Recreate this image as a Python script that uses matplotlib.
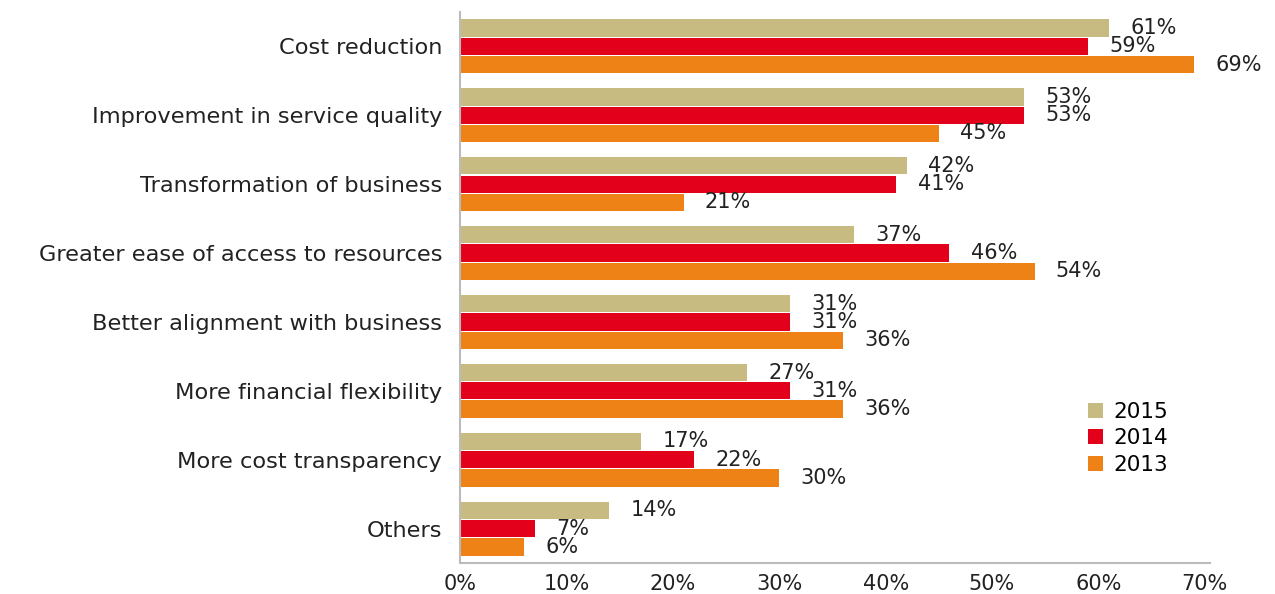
import numpy as np
import matplotlib
matplotlib.use('Agg')
import matplotlib.pyplot as plt

categories = ['Cost reduction', 'Improvement in service quality', 'Transformation of business',
              'Greater ease of access to resources', 'Better alignment with business',
              'More financial flexibility', 'More cost transparency', 'Others']
y2015 = [61, 53, 42, 37, 31, 27, 17, 14]
y2014 = [59, 53, 41, 46, 31, 31, 22, 7]
y2013 = [69, 45, 21, 54, 36, 36, 30, 6]
years = ['2015', '2014', '2013']
colors = ['#C8BB82', '#E2001A', '#EE8216']

plt.rcParams['font.family'] = ['DejaVu Sans']
fig = plt.figure(figsize=(12.75, 5.94), dpi=100)
ax = fig.add_axes([0.361, 0.052, 0.588, 0.928])

pos = np.arange(len(categories))
h = 0.25
for k, (vals, year, col) in enumerate(zip([y2015, y2014, y2013], years, colors)):
    ys = pos + (k - 1) * 0.265
    ax.barh(ys, vals, height=h, color=col, label=year, edgecolor='none')
    for y, v in zip(ys, vals):
        ax.text(v + 2.0, y, '{}%'.format(v), va='center', ha='left', fontsize=15, color='#222222')

ax.set_ylim(7.5, -0.5)
ax.set_xlim(0, 70.5)
ax.set_yticks(pos)
ax.set_yticklabels(categories, fontsize=16.2, color='#222222')
ax.set_xticks(range(0, 71, 10))
ax.set_xticklabels(['{}%'.format(t) for t in range(0, 71, 10)], fontsize=15, color='#222222')
ax.tick_params(length=0, pad=13)
ax.tick_params(axis='x', pad=8)
for s in ['top', 'right']:
    ax.spines[s].set_visible(False)
for s in ['left', 'bottom']:
    ax.spines[s].set_color('#BBBBBB')
    ax.spines[s].set_linewidth(1.5)

ax.legend(loc='lower right', bbox_to_anchor=(0.97, 0.125), frameon=False, fontsize=15.5,
          handlelength=0.7, handleheight=0.7, handletextpad=0.5, labelspacing=0.3)

fig.savefig('out.png', dpi=100)
